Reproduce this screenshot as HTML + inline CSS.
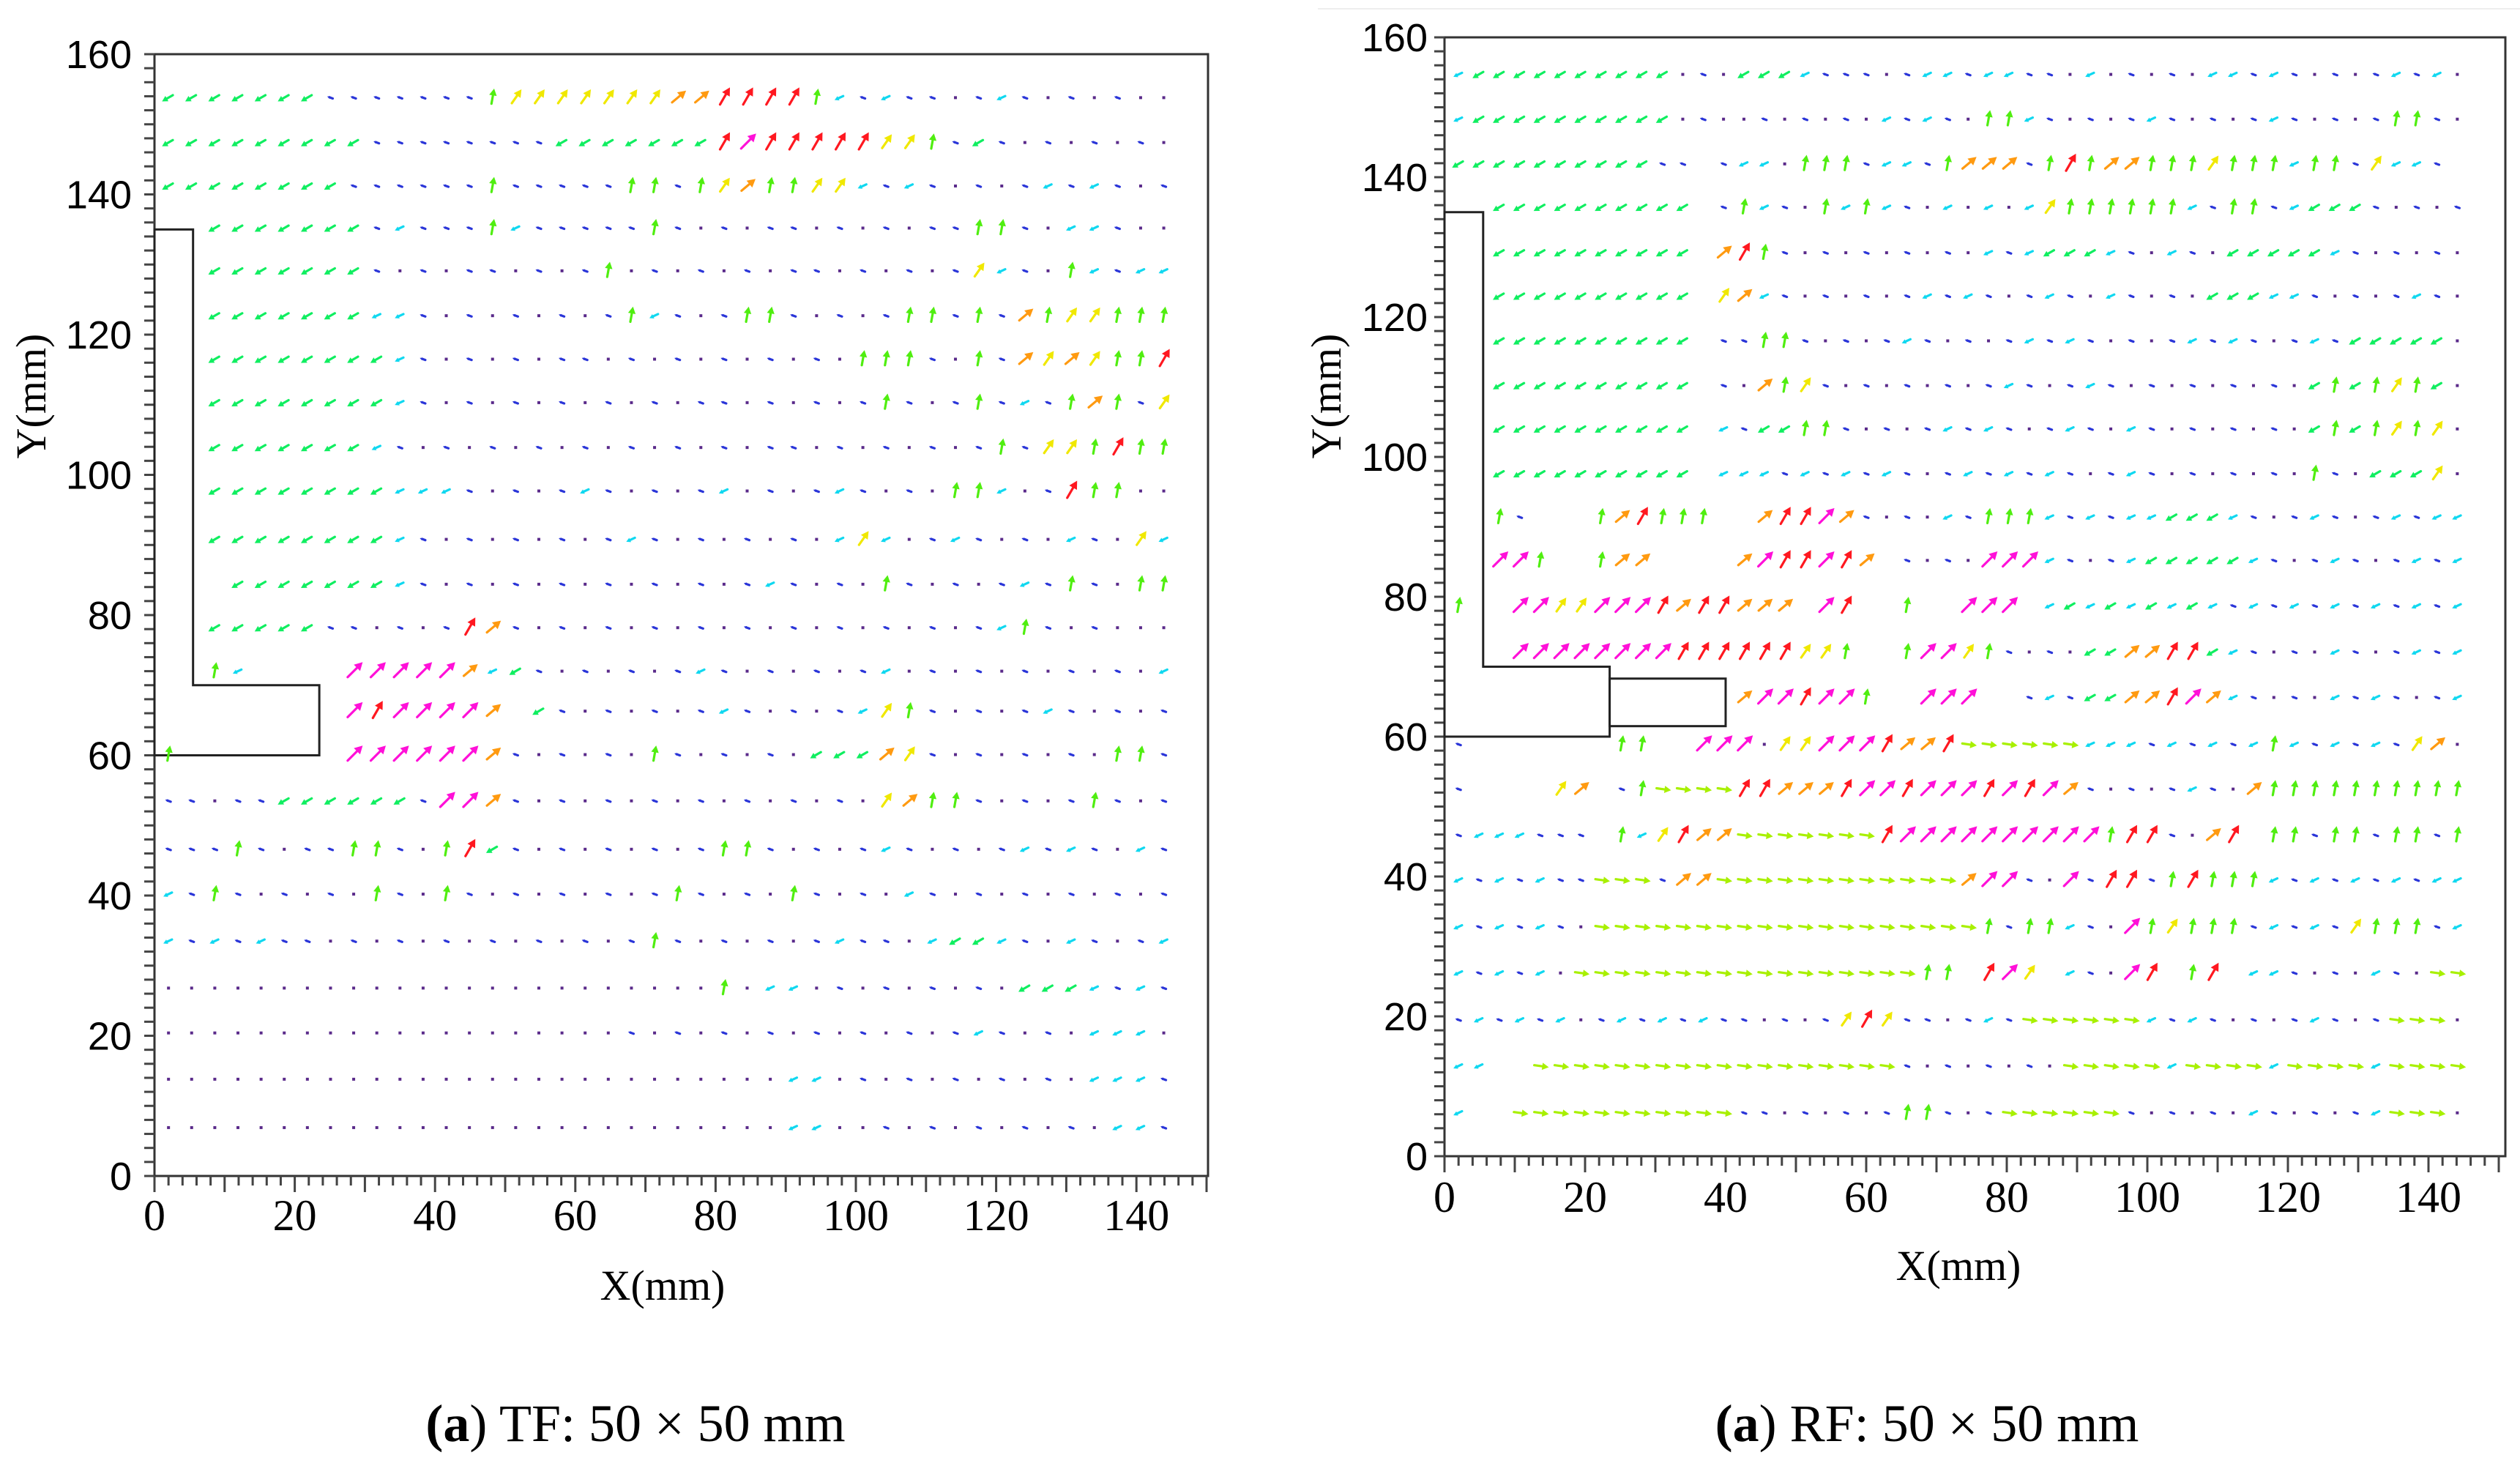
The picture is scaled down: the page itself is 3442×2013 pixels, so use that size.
<!DOCTYPE html>
<html><head><meta charset="utf-8">
<style>
html,body{margin:0;padding:0;background:#fff;}
svg{display:block;}
</style></head>
<body>
<svg id="fig" width="3442" height="2013" viewBox="0 0 3442 2013" xmlns="http://www.w3.org/2000/svg">
<line x1="1800" y1="12" x2="3442" y2="12" stroke="#eeeeee" stroke-width="2"/>
<g id="left"></g>
<g id="right"></g>
<text font-family="Liberation Serif, serif" font-size="72" x="868" y="1968" text-anchor="middle"><tspan font-weight="bold">(a</tspan>) TF: 50 × 50 mm</text>
<text font-family="Liberation Serif, serif" font-size="72" x="2632" y="1968" text-anchor="middle"><tspan font-weight="bold">(a</tspan>) RF: 50 × 50 mm</text>
</svg>
<script>
// ---- data ----
const xTicks = [0,20,40,60,80,100,120,140];
const yTicks = [0,20,40,60,80,100,120,140,160];
const leftRowY = [153.8,147.4,141.2,135.2,129.1,122.7,116.5,110.3,103.9,97.7,90.8,84.4,78.2,72.0,66.3,60.1,53.5,46.6,40.2,33.5,26.8,20.4,13.8,6.9];
const leftColX0 = [2.0];
const leftColStep = [3.3];
const leftCols = [44];
const leftRows = [
"gggggggbbbbbbbGyyyyyyyoorrrrGcbcbb.bcb.b.b..",
"gggggggggbbbbbbbbgggggggrmrrrrryyGbgb.b.b.b.",
"ggggggggbbbbbbGbbbbbGGbGyoGGyycbcb.b.bcbcb.b",
"  gggggggbcbbbGcbbbbbGb.b.bb.b.b.bbGGb.ccb..",
"  gggggggb.b.bb.b.bG.b.b.b.bb.b.b.bycb.Gcbcc",
"  gggggggccb.b.b.b.bGcb.bGGb.b.bGGbGboGyyGGG",
"  ggggggggcb.b.b.bb.b.b.b.b.b.GGGb.GboyoyGGr",
"  ggggggggcb.b.b.b.b.b.bb.b.b.bGb.bGbcbGoGby",
"  gggggggcb.b.b.b.b.b.b.b.bb.b.b.b.bGbyyGrGG",
"  ggggggggcccb.b.bcb.b.bc.b.bcb.b.GGc.brGG",
"  ggggggggcb.b.b.b.bcb.b.b.b.cyc.bcb.b.cb.yc",
"   gggggggcb.b.b.b.b.b.b.bcb.b.Gb.b.bcbGb.GG",
"  gggggbb.b.brob.b.b.b.b.b.b.b.b.b.bcGb.b.",
"  Gc    mmmmmocgb.b.b.bcb.b.b.bc.b.b.b.b.b.c",
"        mrmmmmo gb.b.b.bcb.b.bcyGb.b.bcb.b.b",
"G       mmmmmmob.b.b.Gb.b.b.gggoyb.b.b.b.GGb",
"bb.bbggggggbmmob.b.b.b.b.b.b.b.yoGGb.b.bGb.b",
"bbbGb.bbGGb.Grgb.b.b.b.bGGb.b.bcb.b.bcbcb.cb",
"cbGb.b.b.Gb.Gb.b.b.b.bGb.b.Gb.b.cb.b.b.b.b.b",
"cbcbcbb.b.b.b.b.b.b.bGb.b.b.bcbb.cggcb.cb.bc",
"........................G.cc.b.b.b.b.gggcbcb",
"....................b.b.b.b.b.b.b.bcb.b.ccc.",
"...........................cc.b.b.b.b.b.cccb",
"...........................cc..b.b.b.b.b.ccb."
];
const rightRowY = [154.7,148.3,141.9,135.7,129.2,123.0,116.6,110.2,104.0,97.6,91.4,85.2,78.7,72.1,65.6,58.9,52.5,45.9,39.5,32.8,26.2,19.5,12.9,6.2];
const rightColX0 = [2.0];
const rightColStep = [2.9];
const rightCols = [50];
const rightRows = [
"cgggggggggg.b.gggcbbb.bccbccbb.c.b.b.ccbcb.b.bcbc.",
"cgggggggggg.b..b.b.b.cbcb.GGcb.b.bcb.b.bcb.b.bGGb.",
"ggggggggggbb bcc.GGGbccbGooobGrGooGGGyGGGcGGbyccb ",
"  gggggggggg bGcb.GcGcb.c.c.cyGGGGGGcbGGbcgggb.b.b",
"  gggggggggg orGb.b.b.b.b.cbcgggcb.cb.gggggcb.b.b",
"  gggggggggg yocb.b.b.bcbcb.bcb.cb.b.gggccb.b.bcb",
"  gggggggggg bbGGb.b.bcb.b.bcbcb.b.bcbcb.bcbggggg",
"  gggggggggg b.oGyb.b.b.b.bcb.bcb.b.b.b.b.gGgGyGg",
"  gggggggggg cbggGGb.b.bcbcb.bcb.cb.b.b.b.gGgGyGy",
"  gggggggggg cccbcbcbcb.bcbcbcb.bcb.b.b.b.Gb.gggy",
"  Gb   GorGGG  orrmob.b.cbGGGcbcbccgggcb.bcb.bcbcc",
"  mmG  Goo    omrrmro b.b.mmmcb.bcgggggcb.bcb.bcbc",
"G  mmyymmmrorrooo mr  G  mmm cgcgcgcgcbcbcbcbcbcbc",
"   mmmmmmmmrrrrrryyG  GmmyGb.b.ggoorrgcb.b.cb.bcbc",
"              ommrmmG  mmm  bcbggoormocb.b.cbcb.bc",
"b       GG  mmm.yymmmroorhhhhhhcccbcbcbcGcbcbcbyo",
"b    yo bGhhhhrrooormmrmmmrmrmob.b.bcb.oGGGGGGGGGG",
"bcccbbb GcyroohhhhhhhrmmmmmmmmmmGrrb.or GGbGGbGGbG",
"cbcbcbbhhhboohhhhhhhhhhhhommb.mbrrbGrGGGcbcbcbcbcc",
"cbcbcb.hhhhhhhhhhhhhhhhhhhGbGGcb.mGyGGGbcbcbyGGGbc",
"cbcbc.hhhhhhhhhhhhhhhhhGG rmy cb.mr Gr ccb.b.cb.hh",
"bcbcbc.bcbcbcbb.b.byrybb.bcbhhhhhhcbcb.b.bcb.bhhh",
"cc  hhhhhhhhhhhhhhhhhhb.b.b.b.hhhhhchhhhchhhhchhhh",
"c  hhhhhhhhhhhbb.b.b.bGGb.bhhhhhhb.b.b.cb.b.bchhh"
];
// ---- styles per vector class ----
const STY = {
 '.':{c:'#5a2a8a',L:0,a:0},
 'b':{c:'#2a35d8',L:8,a:160},
 'c':{c:'#10d8f0',L:13,a:205},
 'g':{c:'#10ee60',L:17,a:210},
 'h':{c:'#a8f000',L:20,a:-8},
 'G':{c:'#50ee10',L:21,a:80},
 'y':{c:'#f0e800',L:23,a:55},
 'o':{c:'#ff9a10',L:25,a:40},
 'r':{c:'#ff1820',L:27,a:60},
 'm':{c:'#ff10d8',L:29,a:45}
};
const NS='http://www.w3.org/2000/svg';
function mk(tag,attrs,parent){const e=document.createElementNS(NS,tag);for(const k in attrs)e.setAttribute(k,attrs[k]);parent.appendChild(e);return e;}

function chart(g,cfg){
 const sx=v=>cfg.ox+v*cfg.kx, sy=v=>cfg.oy-v*cfg.ky;
 const fr=mk('rect',{x:cfg.ox,y:sy(160),width:cfg.right-cfg.ox,height:cfg.oy-sy(160),fill:'none',stroke:'#333',"stroke-width":3},g);
 
 
 for(let v=0;v<=150;v+=2){const big=v%10===0;const t=mk('line',{x1:sx(v),x2:sx(v),y1:cfg.oy,y2:cfg.oy+(big?22:13),stroke:'#444',"stroke-width":3},g);
  
  }
 for(let v=0;v<=160;v+=2){const t=mk('line',{x1:cfg.ox-14,x2:cfg.ox,y1:sy(v),y2:sy(v),stroke:'#444',"stroke-width":3},g);
  
  }
 xTicks.forEach(v=>{const t=mk('text',{x:sx(v),y:cfg.xly,'text-anchor':'middle','font-family':'Liberation Serif, serif','font-size':60},g);t.textContent=v;
  
  });
 yTicks.forEach(v=>{const t=mk('text',{x:cfg.ylx,y:sy(v)+19,'text-anchor':'end','font-family':'Liberation Sans, sans-serif','font-size':54},g);t.textContent=v;
  
  });
 const xt=mk('text',{x:cfg.xtx,y:cfg.xty,'text-anchor':'middle','font-family':'Liberation Serif, serif','font-size':58},g);xt.textContent='X(mm)';
 
 
 const yt=mk('text',{x:0,y:0,'text-anchor':'middle','font-family':'Liberation Serif, serif','font-size':58,transform:`translate(${cfg.ytx},${cfg.yty}) rotate(-90)`},g);yt.textContent='Y(mm)';
 
 
 const pts=cfg.shape.map(p=>sx(p[0])+','+sy(p[1])).join(' ');
 const sh=mk('polygon',{points:pts,fill:'#fff',stroke:'#222',"stroke-width":3},g);
 
 
 if(cfg.rect){const r=cfg.rect;const re=mk('rect',{x:sx(r[0]),y:sy(r[3]),width:sx(r[2])-sx(r[0]),height:sy(r[1])-sy(r[3]),fill:'#fff',stroke:'#222',"stroke-width":3},g);
  
  }
 const vg=mk('g',{},g);
 
 
 cfg.rows.forEach((row,ri)=>{
  for(let ci=0;ci<cfg.ncol;ci++){
   const ch=row[ci]||'.'; if(ch===' ')continue; const s=STY[ch]; if(!s)continue;
   const px=sx(cfg.x0+ci*cfg.step), py=sy(cfg.rowY[ri]);
   if(s.L===0){const d=mk('rect',{x:px-2,y:py-2,width:4,height:4,fill:s.c},vg);
     
     continue;}
   const a=s.a*Math.PI/180, ca=Math.cos(a), sa=-Math.sin(a);
   const x0=px-ca*s.L*0.4, y0=py-sa*s.L*0.4, x1=px+ca*s.L*0.6, y1=py+sa*s.L*0.6;
   const hl=Math.min(11,s.L*0.45), hw=hl*0.55;
   const bx=x1-ca*hl, by=y1-sa*hl;
   const ar=mk('g',{},vg);
   
   
   mk('line',{x1:x0,y1:y0,x2:bx,y2:by,stroke:s.c,"stroke-width":3.2,"stroke-linecap":"round"},ar);
   mk('polygon',{points:`${x1},${y1} ${bx-sa*hw},${by+ca*hw} ${bx+sa*hw},${by-ca*hw}`,fill:s.c},ar);
  }
 });
}
chart(document.getElementById('left'),{ox:211,oy:1606,kx:9.58,ky:9.575,right:1650,
 xly:1680,ylx:180,xtx:905,xty:1775,ytx:62,yty:541,
 shape:[[0,135],[5.5,135],[5.5,70],[23.5,70],[23.5,60],[0,60]],rect:null,
 rows:leftRows,rowY:leftRowY,x0:leftColX0[0],step:leftColStep[0],ncol:leftCols[0]});
chart(document.getElementById('right'),{ox:1973,oy:1579,kx:9.6,ky:9.55,right:3422,
 xly:1655,ylx:1950,xtx:2675,xty:1748,ytx:1831,yty:541,
 shape:[[0,135],[5.5,135],[5.5,70],[23.5,70],[23.5,60],[0,60]],rect:[23.5,61.5,40,68.3],
 rows:rightRows,rowY:rightRowY,x0:rightColX0[0],step:rightColStep[0],ncol:rightCols[0]});
</script>
</body></html>
